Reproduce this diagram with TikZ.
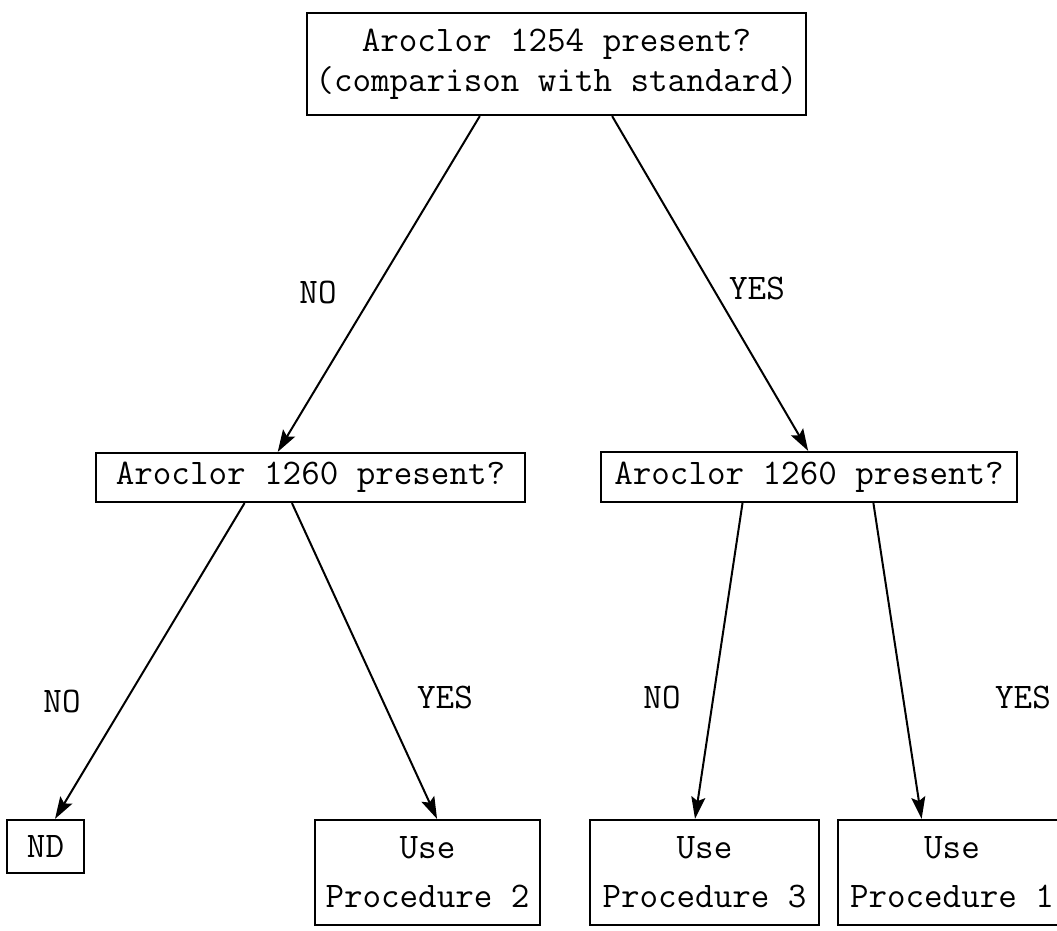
\documentclass[tikz,border=0pt]{standalone}
\usepackage{fontspec}
\usetikzlibrary{arrows.meta,calc}
\tikzset{
  box/.style={draw, line width=2.2pt, align=center, inner sep=0pt, font=\ttfamily\fontsize{36}{40}\selectfont},
  lbl/.style={inner sep=0pt, font=\ttfamily\fontsize{36}{40}\selectfont},
  conn/.style={line width=2pt, -{Stealth[length=22pt,width=14pt,inset=4pt]}}
}
\begin{document}
\begin{tikzpicture}[x=1pt,y=-1pt]
\useasboundingbox (0,0) rectangle (1057,930);
\node[box, minimum width=499pt, minimum height=102pt] (top) at (556.5,64) {Aroclor 1254 present?\\(comparison with standard)};
\node[box, minimum width=429pt, minimum height=49pt] (lmid) at (310.5,477.5) {Aroclor 1260 present?};
\node[box, minimum width=416pt, minimum height=50pt] (rmid) at (809,477) {Aroclor 1260 present?};
\node[box, minimum width=77pt, minimum height=53pt] (nd) at (45.5,846.5) {ND};
\node[box, minimum width=225pt, minimum height=105pt, font=\ttfamily\fontsize{36}{49}\selectfont] (p2) at (427.5,872.5) {Use\\Procedure 2};
\node[box, minimum width=229pt, minimum height=105pt, font=\ttfamily\fontsize{36}{49}\selectfont] (p3) at (704.5,872.5) {Use\\Procedure 3};
\node[box, minimum width=228pt, minimum height=105pt, font=\ttfamily\fontsize{36}{49}\selectfont] (p1) at (952,872.5) {Use\\Procedure 1};

\draw[conn] ($(top.south west)!0.347!(top.south east)$) -- ($(lmid.north west)!0.424!(lmid.north east)$);
\draw[conn] ($(top.south west)!0.611!(top.south east)$) -- ($(rmid.north west)!0.498!(rmid.north east)$);
\draw[conn] ($(lmid.south west)!0.347!(lmid.south east)$) -- ($(nd.north west)!0.62!(nd.north east)$);
\draw[conn] ($(lmid.south west)!0.457!(lmid.south east)$) -- ($(p2.north west)!0.542!(p2.north east)$);
\draw[conn] ($(rmid.south west)!0.341!(rmid.south east)$) -- ($(p3.north west)!0.459!(p3.north east)$);
\draw[conn] ($(rmid.south west)!0.654!(rmid.south east)$) -- ($(p1.north west)!0.368!(p1.north east)$);

\node[lbl] (l1) at (318,292) {NO};
\node[lbl] (l2) at (757,288) {YES};
\node[lbl] (l3) at (62,701) {NO};
\node[lbl] (l4) at (445,697) {YES};
\node[lbl] (l5) at (662,697) {NO};
\node[lbl] (l6) at (1023,697) {YES};
\end{tikzpicture}
\end{document}
